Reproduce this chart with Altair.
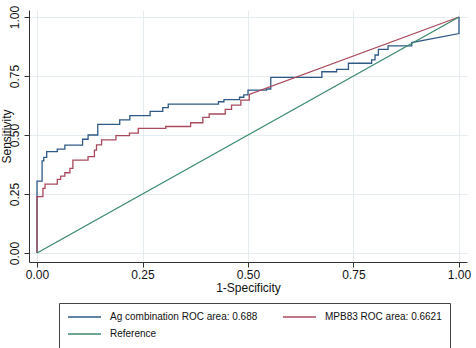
import altair as alt
import pandas as pd

# ---- data ----
series_names = ["Ag combination ROC area: 0.688", "MPB83 ROC area: 0.6621", "Reference"]
series_colors = ["#2f5a86", "#a84a5c", "#3a8a6a"]

blue_x = [0.000, 0.000, 0.012, 0.012, 0.016, 0.016, 0.023, 0.023, 0.048, 0.048,
          0.066, 0.066, 0.108, 0.108, 0.121, 0.121, 0.144, 0.144, 0.196, 0.196,
          0.220, 0.220, 0.268, 0.268, 0.298, 0.298, 0.311, 0.311, 0.430, 0.430,
          0.443, 0.443, 0.480, 0.480, 0.490, 0.490, 0.500, 0.500, 0.544, 0.544,
          0.554, 0.554, 0.675, 0.675, 0.710, 0.710, 0.738, 0.738, 0.793, 0.793,
          0.801, 0.801, 0.809, 0.809, 0.832, 0.832, 0.888, 0.888, 1.000, 1.000]
blue_y = [0.000, 0.305, 0.305, 0.390, 0.390, 0.405, 0.405, 0.430, 0.430, 0.440,
          0.440, 0.457, 0.457, 0.482, 0.482, 0.500, 0.500, 0.545, 0.545, 0.564,
          0.564, 0.582, 0.582, 0.600, 0.600, 0.616, 0.616, 0.631, 0.631, 0.641,
          0.641, 0.650, 0.650, 0.660, 0.660, 0.670, 0.670, 0.690, 0.690, 0.695,
          0.695, 0.744, 0.744, 0.768, 0.768, 0.778, 0.778, 0.804, 0.804, 0.818,
          0.818, 0.839, 0.839, 0.863, 0.863, 0.878, 0.878, 0.892, 0.930, 1.000]

red_x = [0.000, 0.000, 0.014, 0.014, 0.019, 0.019, 0.048, 0.048, 0.056, 0.056,
         0.066, 0.066, 0.078, 0.078, 0.085, 0.085, 0.121, 0.121, 0.136, 0.136,
         0.141, 0.141, 0.153, 0.153, 0.187, 0.187, 0.219, 0.219, 0.240, 0.240,
         0.305, 0.305, 0.364, 0.364, 0.393, 0.393, 0.408, 0.408, 0.446, 0.446,
         0.461, 0.461, 0.483, 0.483, 0.503, 0.503, 1.000]
red_y = [0.000, 0.239, 0.239, 0.274, 0.274, 0.292, 0.292, 0.312, 0.312, 0.326,
         0.326, 0.340, 0.340, 0.359, 0.359, 0.394, 0.394, 0.408, 0.408, 0.436,
         0.436, 0.458, 0.458, 0.479, 0.479, 0.497, 0.497, 0.508, 0.508, 0.528,
         0.528, 0.536, 0.536, 0.552, 0.552, 0.575, 0.575, 0.589, 0.589, 0.609,
         0.609, 0.627, 0.627, 0.648, 0.648, 0.672, 1.000]

ref_x = [0.0, 1.0]
ref_y = [0.0, 1.0]

tick_values = [0.0, 0.25, 0.5, 0.75, 1.0]

rows = []
for name, xs, ys in [(series_names[0], blue_x, blue_y),
                     (series_names[1], red_x, red_y),
                     (series_names[2], ref_x, ref_y)]:
    for i, (a, b) in enumerate(zip(xs, ys)):
        rows.append({"fpr": a, "tpr": b, "series": name, "idx": i})
df = pd.DataFrame(rows)

FONT = "Liberation Sans"

chart = alt.Chart(df).mark_line(strokeWidth=1.3).encode(
    x=alt.X("fpr:Q",
            scale=alt.Scale(domain=[-0.019, 1.019], nice=False, zero=False),
            axis=alt.Axis(values=tick_values, format=".2f", title="1-Specificity",
                          labelPadding=2, titleY=20, titleBaseline="top",
                          titleAlign="center", titleX=219)),
    y=alt.Y("tpr:Q",
            scale=alt.Scale(domain=[-0.0381, 1.0297], nice=False, zero=False),
            axis=alt.Axis(values=tick_values, format=".2f", title="Sensitivity",
                          labelAngle=270, labelAlign="center", labelBaseline="bottom",
                          labelPadding=3, titleAngle=270, titleX=-19, titleY=126,
                          titleAlign="center", titleBaseline="alphabetic")),
    color=alt.Color("series:N",
                    scale=alt.Scale(domain=series_names, range=series_colors),
                    legend=alt.Legend(title=None, orient="none", legendX=30, legendY=293,
                                      direction="horizontal",
                                      columns=2, symbolType="stroke", symbolSize=1089,
                                      symbolStrokeWidth=1.3, labelFontSize=10,
                                      labelFont=FONT, labelColor="#111", labelOffset=8,
                                      columnPadding=24, rowPadding=5, padding=8,
                                      strokeColor="#444", fillColor="white",
                                      cornerRadius=0, clipHeight=12, labelLimit=300)),
    order="idx:Q",
).properties(
    width=438, height=252,
    padding={"left": 29, "top": 10, "right": 9, "bottom": 86},
    autosize=alt.AutoSizeParams(type="none"),
    background="white",
).configure_view(stroke=None).configure_axis(
    domainColor="#333", tickColor="#333", tickSize=5, domainWidth=1, tickWidth=1,
    labelFont=FONT, labelFontSize=12, labelColor="#111",
    titleFont=FONT, titleFontSize=12, titleFontWeight="normal", titleColor="#111",
    grid=True, gridColor="#e4ecef", gridWidth=1,
)

chart.save("out.html", embed_options={"renderer": "svg", "actions": False})
